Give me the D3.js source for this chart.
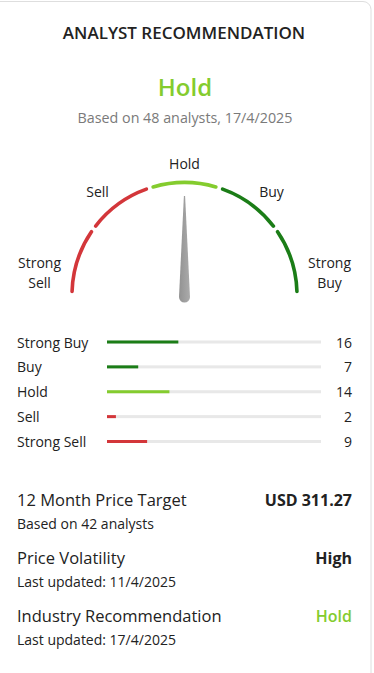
<!DOCTYPE html>
<html>
<head>
<meta charset="utf-8">
<script src="https://cdn.jsdelivr.net/npm/d3@7"></script>
<style>
  html, body { margin: 0; padding: 0; background: #fff; }
  svg { display: block; font-family: "Open Sans", "Noto Sans", sans-serif; }
</style>
</head>
<body>
<svg id="chart" width="374" height="673"></svg>
<script>
// Recommendation categories, ordered from most bearish to most bullish
const categories = ["Strong Sell", "Sell", "Hold", "Buy", "Strong Buy"];
const gaugeLabels = [["Strong", "Sell"], ["Sell"], ["Hold"], ["Buy"], ["Strong", "Buy"]];
const categoryColors = ["#d3363a", "#d3363a", "#84cc2e", "#1b7d17", "#1b7d17"];
// Analyst counts per category
const counts = [9, 2, 14, 7, 16];
const totalAnalysts = 48;
const consensus = "Hold";
const asOf = "17/4/2025";

// Summary rows below the breakdown
const summaryTitles = ["12 Month Price Target", "Price Volatility", "Industry Recommendation"];
const summaryValues = ["USD 311.27", "High", "Hold"];
const summaryNotes = ["Based on 42 analysts", "Last updated: 11/4/2025", "Last updated: 17/4/2025"];

const svg = d3.select("#chart");
const green = "#84cc2e";

// Card outline
svg.append("rect")
  .attr("x", -12).attr("y", 1.5).attr("width", 383).attr("height", 720)
  .attr("rx", 8).attr("fill", "#fff").attr("stroke", "#dedede").attr("stroke-width", 1);

// Header
svg.append("text").attr("x", 184).attr("y", 39).attr("text-anchor", "middle")
  .attr("font-size", 17).attr("font-weight", 600).attr("fill", "#222")
  .text("ANALYST RECOMMENDATION");
svg.append("text").attr("x", 185).attr("y", 96).attr("text-anchor", "middle")
  .attr("font-size", 24).attr("font-weight", 600).attr("fill", green)
  .text(consensus);
svg.append("text").attr("x", 185).attr("y", 123).attr("text-anchor", "middle")
  .attr("font-size", 14.3).attr("fill", "#7a7a7a")
  .text(`Based on ${totalAnalysts} analysts, ${asOf}`);

// Gauge
const cx = 184.5, cy = 295, r = 112.5;
const angle = d3.scaleBand().domain(categories).range([-Math.PI / 2, Math.PI / 2]);
const gauge = svg.append("g").attr("transform", `translate(${cx},${cy})`);
const arcGen = d3.arc().innerRadius(r - 1.8).outerRadius(r + 1.8).cornerRadius(1.8)
  .padAngle(0.022);
gauge.selectAll("path.seg").data(categories).join("path")
  .attr("class", "seg")
  .attr("d", d => arcGen({ startAngle: angle(d), endAngle: angle(d) + angle.bandwidth() }))
  .attr("fill", (d, i) => categoryColors[i]);

// Gauge labels placed around the arc
const labelPos = [
  { x: -145, y: -27 }, { x: -87, y: -98 }, { x: 0, y: -126 }, { x: 87, y: -98 }, { x: 145, y: -27 }
];
gauge.selectAll("text.gl").data(categories).join("text")
  .attr("class", "gl")
  .attr("text-anchor", "middle")
  .attr("font-size", 14).attr("fill", "#222")
  .each(function (d, i) {
    const t = d3.select(this);
    const lines = gaugeLabels[i];
    lines.forEach((ln, j) => {
      t.append("tspan").attr("x", labelPos[i].x).attr("y", labelPos[i].y + j * 20).text(ln);
    });
  });

// Needle points at the centre of the consensus category
const defs = svg.append("defs");
const grad = defs.append("linearGradient").attr("id", "needleGrad")
  .attr("x1", "0").attr("x2", "1").attr("y1", "0").attr("y2", "0");
grad.append("stop").attr("offset", "0%").attr("stop-color", "#929292");
grad.append("stop").attr("offset", "100%").attr("stop-color", "#ababab");
const needleAngle = angle(consensus) + angle.bandwidth() / 2;
const needleLen = 101, baseR = 5.5;
const needle = gauge.append("g").attr("transform", `translate(0,2) rotate(${needleAngle * 180 / Math.PI})`);
needle.append("path")
  .attr("d", `M${-baseR},0 L-0.6,${-needleLen} L0.6,${-needleLen} L${baseR},0 A${baseR},${baseR} 0 0 1 ${-baseR},0 Z`)
  .attr("fill", "url(#needleGrad)");

// Breakdown bars
const rows = categories.slice().reverse();
const rowCounts = counts.slice().reverse();
const rowColors = categoryColors.slice().reverse();
const y = d3.scalePoint().domain(rows).range([342, 441.5]);
const x = d3.scaleLinear().domain([0, totalAnalysts]).range([107, 321]);
const bars = svg.append("g");
const row = bars.selectAll("g").data(rows).join("g")
  .attr("transform", d => `translate(0,${y(d)})`);
row.append("text").attr("x", 17).attr("y", 5.5).attr("font-size", 14).attr("fill", "#222").text(d => d);
row.append("rect").attr("x", x(0)).attr("y", -1.5).attr("height", 3)
  .attr("width", x(totalAnalysts) - x(0)).attr("fill", "#e8e8e8");
row.append("rect").attr("x", x(0)).attr("y", -1.5).attr("height", 3)
  .attr("width", (d, i) => x(rowCounts[i]) - x(0)).attr("fill", (d, i) => rowColors[i]);
row.append("text").attr("x", 352).attr("y", 5.5).attr("text-anchor", "end")
  .attr("font-size", 14).attr("fill", "#222").text((d, i) => rowCounts[i]);

// Summary
const sy = d3.scalePoint().domain(summaryTitles).range([506, 622]);
const srow = svg.append("g").selectAll("g").data(summaryTitles).join("g")
  .attr("transform", d => `translate(0,${sy(d)})`);
srow.append("text").attr("x", 17).attr("y", 0).attr("font-size", 16.5).attr("fill", "#222").text(d => d);
srow.append("text").attr("x", 352).attr("y", 0).attr("text-anchor", "end")
  .attr("font-size", 16)
  .attr("fill", (d, i) => i === 2 ? green : "#222")
  .attr("font-weight", (d, i) => i === 2 ? 600 : 700)
  .text((d, i) => summaryValues[i]);
srow.append("text").attr("x", 17).attr("y", 23).attr("font-size", 14).attr("fill", "#222")
  .text((d, i) => summaryNotes[i]);
</script>
</body>
</html>
